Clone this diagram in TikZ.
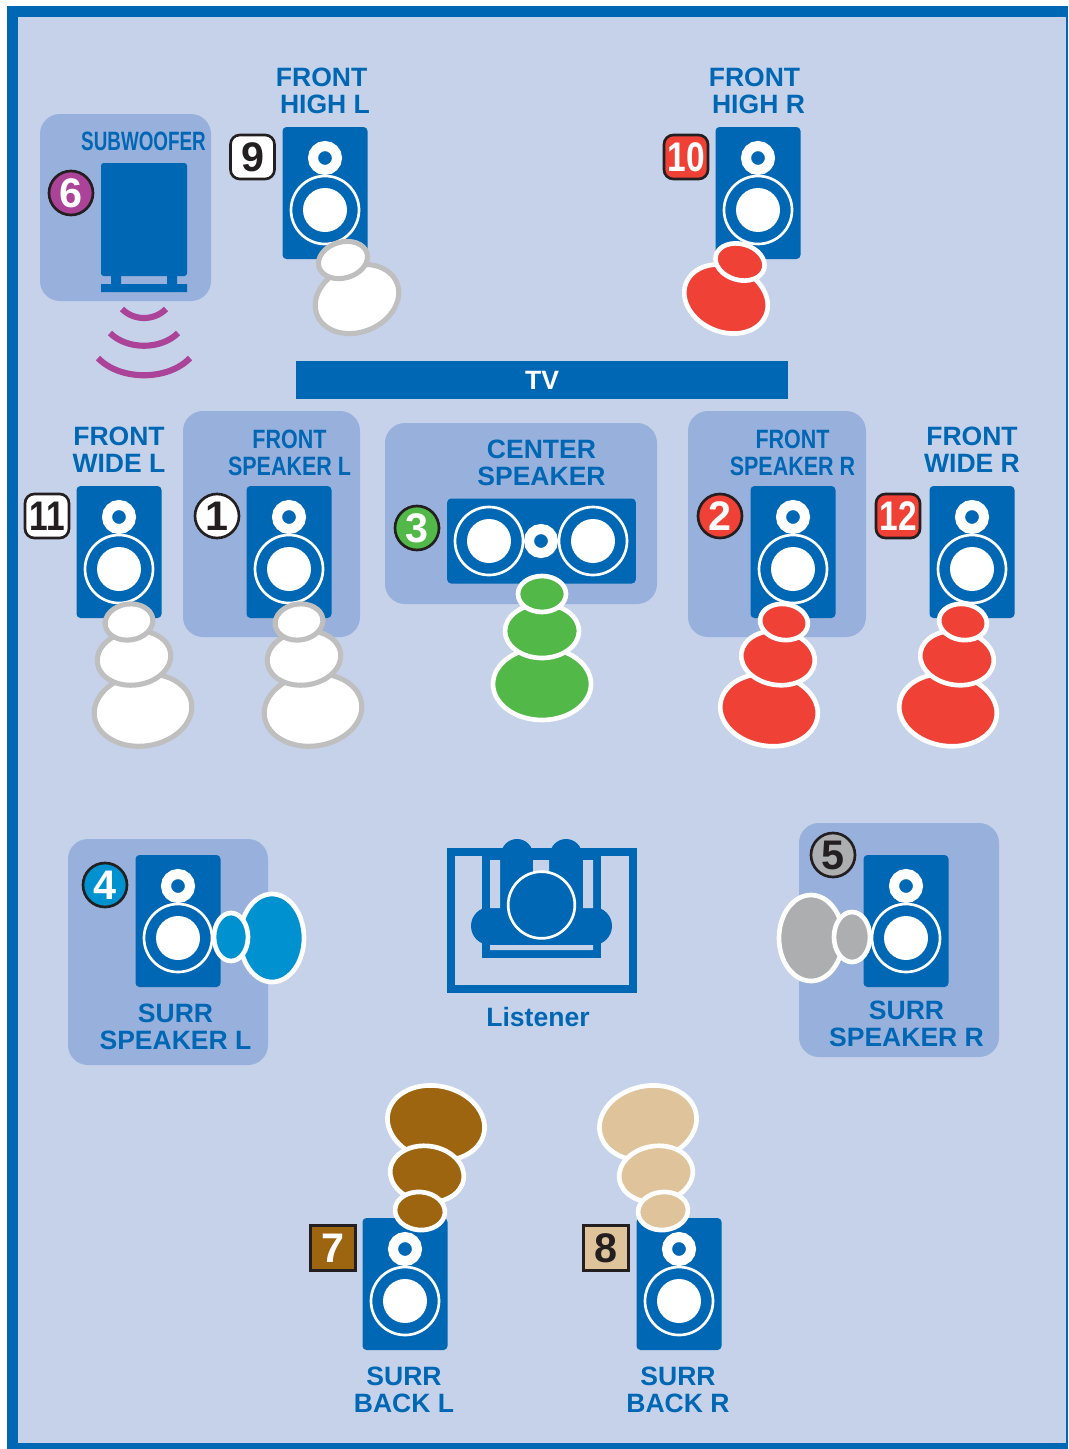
\documentclass[tikz,border=0pt]{standalone}
\usepackage{fontspec}
\setmainfont{Liberation Sans}
\newfontfamily\condfont[FakeStretch=.81]{Liberation Sans}
\newfontfamily\subfont[FakeStretch=.71]{Liberation Sans}
\usetikzlibrary{shapes.geometric}
\definecolor{framec}{HTML}{0067B4}
\definecolor{roomc}{HTML}{C5D2EA}
\definecolor{panelc}{HTML}{98B0DC}
\definecolor{brownc}{HTML}{9E6511}
\definecolor{tanc}{HTML}{DFC39A}
\definecolor{redc}{HTML}{EF4136}
\definecolor{greenc}{HTML}{52B848}
\definecolor{purplec}{HTML}{AB4399}
\definecolor{bluec}{HTML}{0092D0}
\definecolor{grayc}{HTML}{ADAEB0}
\definecolor{inkc}{HTML}{231F20}
\tikzset{lbl/.style={text=framec,align=center,inner sep=0pt,font=\fontsize{19.9}{20.2}\selectfont\bfseries},
  lblcond/.style={lbl,font=\fontsize{19.9}{20.2}\selectfont\bfseries\condfont},
  spkbox/.style={fill=framec,rounded corners=3pt,minimum width=63.75pt,minimum height=99pt,inner sep=0pt},
  tweeter/.style={circle,draw=white,line width=7.5pt,fill=framec,minimum size=18pt,inner sep=0pt},
  wring/.style={circle,draw=white,line width=2pt,fill=framec,minimum size=51pt,inner sep=0pt},
  wcone/.style={circle,fill=white,minimum size=33pt,inner sep=0pt},
  stone/.style={draw=white,line width=3.5pt},
  pale/.style={draw=gray!50,line width=3.8pt,fill=white},
  panel/.style={fill=panelc,rounded corners=15pt},
  wave/.style={draw=purplec,line width=4.6pt},
  rnd/.style={circle,draw=inkc,line width=2pt,minimum size=33pt,inner sep=0pt,font=\fontsize{31}{31}\selectfont\bfseries},
  sqr/.style={rnd,rectangle,rounded corners=7pt,minimum width=33pt},
  box/.style={rnd,rectangle,minimum size=34pt},
  numcond/.style={font=\fontsize{31}{31}\selectfont\bfseries\condfont}}
\begin{document}
\begin{tikzpicture}[x=.75pt,y=-.75pt]
\useasboundingbox (0,0) rectangle (1068,1449);
% room
\fill[framec] (7,6) rectangle (1068,1449);
\fill[roomc] (18,17) rectangle (1066,1443);
% panels behind the speakers
\fill[panel] (40,114) rectangle (211,301);
\fill[panel] (183,411) rectangle (360,637);
\fill[panel] (385,423) rectangle (657,604);
\fill[panel] (688,411) rectangle (866,637);
\fill[panel] (68,839) rectangle (268,1065);
\fill[panel] (799,823) rectangle (999,1057);
% speakers
\foreach \n/\x/\y in {fhl/325/193,fhr/758/193,fwl/119/552,fsl/289/552,fsr/793/552,fwr/972/552,
  ssl/178/921,ssr/906/921,sbl/405/1284,sbr/679/1284}{
  \node[spkbox] (\n) at (\x,\y) {};
  \node[tweeter] (\n t) at (\x,\y-35) {};
  \node[wring] (\n r) at (\x,\y+17) {};
  \node[wcone] (\n c) at (\x,\y+17) {};
}
% center speaker
\node[spkbox,minimum width=141.5pt,minimum height=63.75pt] (cen) at (541.5,541) {};
\node[wring] (cenlr) at (489,541) {};
\node[wcone] (cenlc) at (489,541) {};
\node[wring] (cenrr) at (593,541) {};
\node[wcone] (cenrc) at (593,541) {};
\node[tweeter] (cent) at (541,541) {};
% subwoofer
\fill[framec,rounded corners=2pt] (101,163) rectangle (187,276);
\fill[framec] (111,270) rectangle (121,286) (167,270) rectangle (177,286) (101,284) rectangle (187,292);
\draw[wave] (122,309) .. controls (134,321) and (154,321) .. (166,309);
\draw[wave] (110,333) .. controls (127,350) and (161,350) .. (178,333);
\draw[wave] (98,358) .. controls (120,381) and (168,381) .. (190,358);
% sound stones
\foreach \x/\y/\a/\b/\r in {357/299/43/33/22,343/260/25/18/16,
  143/710/49/36/8,134/658/37/27/8,129/622/24/18/8,313/710/49/36/8,304/658/37/27/8,299/622/24/18/8}{
  \draw[pale] (\x,\y) ellipse [x radius=\a,y radius=\b,rotate=\r];
}
\foreach \x/\y/\a/\b/\r in {726/299/43/33/-22,740/262/25/18/-16,
  769/710/49/36/-8,778/658/37/27/-8,784/622/24/18/-8,948/710/49/36/-8,957/658/37/27/-8,963/622/24/18/-8}{
  \draw[stone,fill=redc] (\x,\y) ellipse [x radius=\a,y radius=\b,rotate=\r];
}
\foreach \x/\y/\a/\b in {542/684/49/36,542/631/37/27,542/594/24/18}{
  \draw[stone,fill=greenc] (\x,\y) ellipse [x radius=\a,y radius=\b];
}
\foreach \x/\y/\a/\b in {272/938/32/44,231/937/17/24}{
  \draw[stone,fill=bluec] (\x,\y) ellipse [x radius=\a,y radius=\b];
}
\foreach \x/\y/\a/\b in {811/938/32/43,852/937/18/25}{
  \draw[stone,fill=grayc] (\x,\y) ellipse [x radius=\a,y radius=\b];
}
\foreach \x/\y/\a/\b/\r in {436/1123/49/37/-12,427/1174/37/28/-8,420/1211/25/19/-5}{
  \draw[stone,fill=brownc] (\x,\y) ellipse [x radius=\a,y radius=\b,rotate=\r];
}
\foreach \x/\y/\a/\b/\r in {648/1123/49/37/12,656/1174/37/28/8,663/1211/25/19/5}{
  \draw[stone,fill=tanc] (\x,\y) ellipse [x radius=\a,y radius=\b,rotate=\r];
}
% TV
\node[fill=framec,text=white,minimum width=369pt,minimum height=28.5pt,inner sep=0pt,font=\fontsize{19.9}{20}\selectfont\bfseries] (tv) at (542,380) {TV};
% listener
\draw[framec,line width=6pt] (451,852) rectangle (633,989);
\fill[framec] (482,848) rectangle (601,958);
\fill[framec] (517,855) ellipse [x radius=16,y radius=16] (566,855) ellipse [x radius=16,y radius=16];
\fill[framec] (490,926) ellipse [x radius=19,y radius=19] (593,926) ellipse [x radius=19,y radius=19];
\fill[roomc] (490,860) rectangle (500,908) (583,860) rectangle (593,908) (533,860) rectangle (549,885) (490,945) rectangle (593,950);
\node[circle,draw=white,line width=2pt,fill=framec,minimum size=50pt,inner sep=0pt] (head) at (541.5,905) {};
\node[lbl] (lis) at (538,1017) {Listener};
% labels
\node[lbl] (fhll) at (325,91) {FRONT\kern 5pt\\HIGH L};
\node[lbl] (fhrl) at (758.5,91) {FRONT\kern 6pt\\HIGH R};
\node[lbl] (fwll) at (119,450) {FRONT\\WIDE L};
\node[lbl] (fwrl) at (972,450) {FRONT\\WIDE R};
\node[lblcond] (fsll) at (289.5,453) {FRONT\\SPEAKER L};
\node[lblcond] (fsrl) at (792.5,453) {FRONT\\SPEAKER R};
\node[lbl] (cenl) at (541.5,463) {CENTER\\SPEAKER};
\node[lbl,font=\fontsize{19.9}{20.2}\selectfont\bfseries\subfont] (subl) at (143.5,141) {SUBWOOFER};
\node[lbl] (ssll) at (175.5,1027) {SURR\\SPEAKER L};
\node[lbl] (ssrl) at (906.5,1024) {SURR\\SPEAKER R};
\node[lbl] (sbll) at (404,1390) {SURR\\BACK L};
\node[lbl] (sbrl) at (678,1390) {SURR\\BACK R};
% numbers
\node[rnd,fill=purplec,text=white] (n6) at (71,193) {6};
\node[sqr,fill=white,text=inkc] (n9) at (252.5,157) {9};
\node[sqr,fill=redc,text=white,numcond] (n10) at (686,157) {10};
\node[sqr,fill=white,text=inkc,numcond] (n11) at (47,516) {11};
\node[rnd,fill=white,text=inkc] (n1) at (217,516) {1};
\node[rnd,fill=greenc,text=white] (n3) at (417,528) {3};
\node[rnd,fill=redc,text=white] (n2) at (720,516) {2};
\node[sqr,fill=redc,text=white,numcond] (n12) at (898,516) {12};
\node[rnd,fill=bluec,text=white] (n4) at (105,885) {4};
\node[rnd,fill=grayc,text=inkc] (n5) at (833,855) {5};
\node[box,fill=brownc,text=white] (n7) at (333,1248) {7};
\node[box,fill=tanc,text=inkc] (n8) at (606,1248) {8};
\end{tikzpicture}
\end{document}
